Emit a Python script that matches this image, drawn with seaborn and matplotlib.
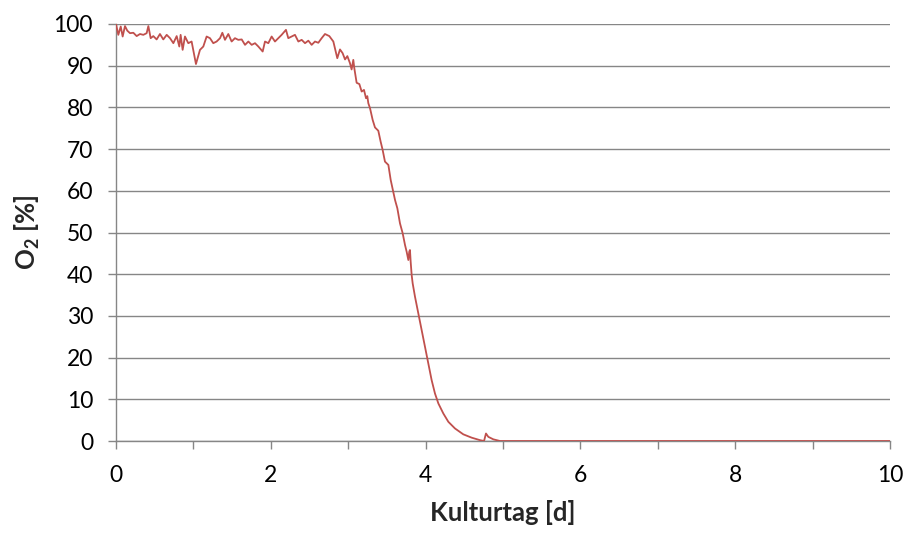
import numpy as np
import pandas as pd
import matplotlib
matplotlib.use("Agg")
import matplotlib.pyplot as plt
from matplotlib.ticker import MultipleLocator
import seaborn as sns

# Culture day [d]
kulturtag = [
    0.000, 0.030, 0.061, 0.086, 0.116, 0.146, 0.181, 0.224, 0.267, 0.310,
    0.353, 0.396, 0.418, 0.448, 0.482, 0.525, 0.568, 0.611, 0.655, 0.698,
    0.741, 0.784, 0.818, 0.835, 0.861, 0.891, 0.934, 0.977, 1.033, 1.085,
    1.128, 1.171, 1.214, 1.257, 1.300, 1.344, 1.374, 1.408, 1.451, 1.494,
    1.537, 1.580, 1.624, 1.667, 1.710, 1.753, 1.796, 1.839, 1.895, 1.925,
    1.968, 2.011, 2.054, 2.097, 2.140, 2.196, 2.226, 2.269, 2.312, 2.356,
    2.399, 2.442, 2.485, 2.528, 2.571, 2.614, 2.657, 2.700, 2.756, 2.808,
    2.859, 2.894, 2.928, 2.959, 2.989, 3.023, 3.044, 3.066, 3.079, 3.109,
    3.144, 3.174, 3.204, 3.230, 3.247, 3.260, 3.282, 3.316, 3.346, 3.389,
    3.419, 3.445, 3.475, 3.519, 3.549, 3.605, 3.635, 3.669, 3.704, 3.734,
    3.755, 3.777, 3.789, 3.798, 3.807, 3.820, 3.833, 3.863, 3.906, 3.949,
    3.992, 4.035, 4.078, 4.121, 4.165, 4.229, 4.294, 4.380, 4.487, 4.595,
    4.703, 4.755, 4.780, 4.810, 4.875, 4.961, 6.000, 8.000, 10.000,
]

# Dissolved oxygen [%]
o2 = [
    100.0, 97.4, 99.4, 97.0, 99.5, 98.4, 97.8, 97.9, 97.1, 97.6,
    97.4, 97.8, 99.5, 96.6, 97.1, 96.3, 97.6, 96.3, 97.4, 96.6,
    95.4, 97.1, 94.6, 97.4, 93.8, 97.0, 95.4, 95.8, 90.4, 93.8,
    94.6, 97.0, 96.6, 95.4, 95.8, 96.6, 97.9, 96.2, 97.6, 95.8,
    96.6, 96.2, 96.3, 95.0, 95.8, 95.0, 95.4, 94.6, 93.4, 95.8,
    95.4, 97.0, 95.8, 96.6, 97.4, 98.6, 96.6, 97.0, 97.4, 95.8,
    96.2, 95.4, 96.0, 95.0, 95.8, 95.5, 96.6, 97.6, 97.1, 95.8,
    91.8, 93.9, 93.0, 91.5, 92.3, 90.6, 89.1, 91.4, 89.4, 85.9,
    85.6, 83.8, 84.2, 82.2, 82.7, 81.0, 79.8, 77.0, 75.2, 74.4,
    71.8, 69.8, 67.0, 66.2, 62.6, 57.8, 55.8, 52.2, 49.8, 47.0,
    45.4, 43.4, 45.4, 45.8, 43.0, 39.8, 37.8, 34.6, 30.6, 26.6,
    22.6, 18.6, 14.6, 11.4, 9.0, 6.6, 4.6, 3.0, 1.6, 0.8,
    0.2, 0.0, 1.8, 1.0, 0.4, 0.0, 0.0, 0.0, 0.0,
]

x_ticks = [0, 2, 4, 6, 8, 10]
y_ticks = [0, 10, 20, 30, 40, 50, 60, 70, 80, 90, 100]

df = pd.DataFrame({"Kulturtag": kulturtag, "O2": o2})

sns.set_theme(style="white")
plt.rcParams["font.family"] = ["Lato", "DejaVu Sans"]
plt.rcParams["mathtext.fontset"] = "custom"
plt.rcParams["mathtext.rm"] = "Lato"
plt.rcParams["mathtext.bf"] = "Lato:bold"

grey = "#868686"
fig = plt.figure(figsize=(9.06, 5.33), dpi=100)
ax = fig.add_axes([116 / 906, 92 / 533, 774 / 906, 417 / 533])

sns.lineplot(data=df, x="Kulturtag", y="O2", ax=ax, color="#C0504D",
             linewidth=1.3, estimator=None, sort=False, zorder=3)

ax.set_xlim(0, 10)
ax.set_ylim(0, 100)
ax.set_xticks(x_ticks)
ax.set_xticklabels([str(t) for t in x_ticks])
ax.set_yticks(y_ticks)
ax.set_yticklabels([str(t) for t in y_ticks])
ax.xaxis.set_minor_locator(MultipleLocator(1))

ax.grid(axis="y", color=grey, linewidth=1.0)
ax.grid(axis="x", visible=False)
ax.set_axisbelow(True)

for side in ["top", "right"]:
    ax.spines[side].set_visible(False)
for side in ["left", "bottom"]:
    ax.spines[side].set_color(grey)
    ax.spines[side].set_linewidth(1.0)

ax.tick_params(axis="both", which="both", direction="out", length=5.5,
               width=1.0, color=grey, labelsize=16.5, labelcolor="black")
ax.tick_params(axis="y", pad=11)
ax.tick_params(axis="x", pad=12)
ax.tick_params(axis="x", which="minor", bottom=True, length=5.5)
ax.tick_params(axis="both", left=True, bottom=True)

ax.set_xlabel("Kulturtag [d]", fontsize=18.5, fontweight="bold", labelpad=10)
ax.set_ylabel(r"$\mathbf{O_2}$ [%]", fontsize=18.5, fontweight="bold", labelpad=8)

fig.savefig("out.png", dpi=100)
